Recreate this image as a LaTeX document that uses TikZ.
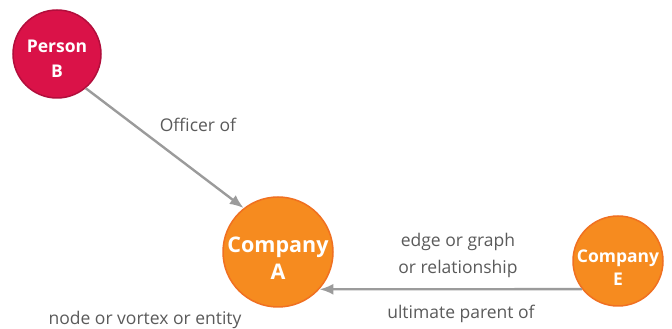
\documentclass[tikz,border=0pt]{standalone}
\usepackage{fontspec}
\setmainfont{Open Sans}
\usetikzlibrary{arrows.meta}
\definecolor{personred}{HTML}{DA1248}
\definecolor{personline}{HTML}{B20E3C}
\definecolor{companyorange}{HTML}{F68B1F}
\definecolor{companyline}{HTML}{F07021}
\definecolor{edgegray}{HTML}{9B9B9B}
\definecolor{labelgray}{HTML}{5A5A5A}

\begin{document}
\begin{tikzpicture}[x=1pt,y=1pt]

\tikzset{vertex/.style = {shape=circle,draw,line width=1.5pt,inner sep=0pt}}
\tikzset{person/.style = {vertex,fill=personred,draw=personline,minimum size=88pt}}
\tikzset{company/.style = {vertex,fill=companyorange,draw=companyline}}
\tikzset{vtext/.style = {text=white,align=center,inner sep=0pt}}
\tikzset{edge/.style = {-{Latex[length=14pt,width=11pt]},draw=edgegray,fill=edgegray,line width=2.4pt}}
\tikzset{elabel/.style = {text=labelgray,align=center,font=\fontsize{17.5}{27}\selectfont}}

\useasboundingbox (0,0) rectangle (672,329);

%vertex

\node[person] (b) at (57,275) {};
\node[company, minimum size=110pt] (a) at (278,77) {};
\node[company, minimum size=90pt] (e) at (618,68) {};

\node[vtext, font=\bfseries\fontsize{17.5}{25}\selectfont] (btext) at ([yshift=-5pt]b.center) {Person\\B};
\node[vtext, font=\bfseries\fontsize{21.5}{27}\selectfont] (atext) at ([yshift=-6pt]a.center) {Company\\A};
\node[vtext, font=\bfseries\fontsize{17.5}{23}\selectfont] (etext) at ([yshift=-7pt]e.center) {Company\\E};

%labels

\node[elabel] (officer) at (198,204) {Officer of};
\node[elabel] (edgetext) at (458,74) {edge or graph\\or relationship};
\node[elabel] (parent) at (461,15) {ultimate parent of};
\node[elabel] (nodetext) at (145,9) {node or vortex or entity};

%edge

\draw[edge] (b.310) -- (a.128);
\draw[edge] (e.218) -- (a.318);

\end{tikzpicture}
\end{document}
